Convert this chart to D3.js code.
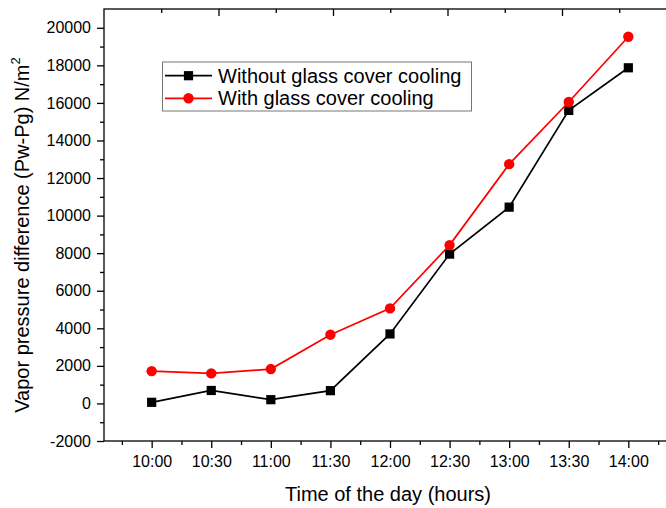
<!DOCTYPE html>
<html>
<head>
<meta charset="utf-8">
<script src="https://cdn.jsdelivr.net/npm/d3@7/dist/d3.min.js"></script>
<style>
  html, body { margin: 0; padding: 0; background: #fff; }
  svg { display: block; font-family: Arial, "Liberation Sans", sans-serif; }
</style>
</head>
<body>
<svg id="chart" width="666" height="508"></svg>
<script>
// ---- data ----
const categories = ["10:00", "10:30", "11:00", "11:30", "12:00", "12:30", "13:00", "13:30", "14:00"];
const withoutCooling = [60, 690, 200, 680, 3700, 7950, 10450, 15600, 17870];
const withCooling = [1720, 1600, 1830, 3660, 5060, 8430, 12740, 16050, 19520];
const seriesNames = ["Without glass cover cooling", "With glass cover cooling"];
const yTicks = [-2000, 0, 2000, 4000, 6000, 8000, 10000, 12000, 14000, 16000, 18000, 20000];
const xTitle = "Time of the day (hours)";
const yTitle = "Vapor pressure difference (Pw-Pg) N/m";

// ---- layout ----
const svg = d3.select("#chart");
const L = 104, T = 9, B = 441, R = 676;

const x = d3.scaleLinear().domain([-0.8, 8.8]).range([L, R]);
const xTop = d3.scaleLinear().domain([-1, 4.001]).range([L, L + 5.001 * 114.5]);
const y = d3.scaleLinear().domain([-2000, 21000]).range([B, T]);

// frame
svg.append("rect").attr("x", L).attr("y", T).attr("width", R - L).attr("height", B - T)
  .attr("fill", "none").attr("stroke", "#000").attr("stroke-width", 1.3);

// bottom axis: major ticks with labels
const xIdx = d3.range(categories.length);
svg.append("g").attr("transform", `translate(0,${B})`)
  .call(d3.axisBottom(x).tickValues(xIdx).tickSize(7).tickPadding(8)
    .tickFormat(i => categories[i]));
// minor
svg.append("g").attr("transform", `translate(0,${B})`)
  .call(d3.axisBottom(x).tickValues(d3.range(-0.5, 9, 1)).tickSize(4).tickFormat(""));

// top axis (inward ticks)
svg.append("g").attr("transform", `translate(0,${T})`)
  .call(d3.axisBottom(xTop).tickValues([0, 1, 2, 3, 4]).tickSize(7).tickFormat(""));
svg.append("g").attr("transform", `translate(0,${T})`)
  .call(d3.axisBottom(xTop).tickValues([-0.5, 0.5, 1.5, 2.5, 3.5]).tickSize(4).tickFormat(""));

// left axis
svg.append("g").attr("transform", `translate(${L},0)`)
  .call(d3.axisLeft(y).tickValues(yTicks).tickSize(7).tickPadding(6).tickFormat(d => String(d)));
svg.append("g").attr("transform", `translate(${L},0)`)
  .call(d3.axisLeft(y).tickValues(d3.range(-1000, 21000, 2000)).tickSize(4).tickFormat(""));

svg.selectAll(".domain").remove();
svg.selectAll(".tick line").attr("stroke", "#000").attr("stroke-width", 1.3);
svg.selectAll(".tick text").attr("font-size", 16).attr("fill", "#000")
  .attr("font-family", "Arial, 'Liberation Sans', sans-serif");

// series
const series = [
  { name: seriesNames[0], values: withoutCooling, color: "#000000", shape: "square" },
  { name: seriesNames[1], values: withCooling, color: "#ff0000", shape: "circle" }
];
const line = d3.line().x((d, i) => x(i)).y(d => y(d));

function drawMarker(g, cx, cy, s) {
  if (s.shape === "square") {
    g.append("rect").attr("x", cx - 4.6).attr("y", cy - 4.6).attr("width", 9.2).attr("height", 9.2)
      .attr("fill", s.color);
  } else {
    g.append("circle").attr("cx", cx).attr("cy", cy).attr("r", 5.2).attr("fill", s.color);
  }
}

series.forEach(s => {
  svg.append("path").datum(s.values).attr("d", line)
    .attr("fill", "none").attr("stroke", s.color).attr("stroke-width", 1.7);
  const g = svg.append("g");
  s.values.forEach((v, i) => drawMarker(g, x(i), y(v), s));
});

// legend
const lg = svg.append("g");
lg.append("rect").attr("x", 162.5).attr("y", 62).attr("width", 309).attr("height", 49)
  .attr("fill", "#fff").attr("stroke", "#777").attr("stroke-width", 1);
series.forEach((s, k) => {
  const cy = 75.7 + k * 22.6;
  lg.append("line").attr("x1", 165).attr("x2", 212).attr("y1", cy).attr("y2", cy)
    .attr("stroke", s.color).attr("stroke-width", 1.7);
  drawMarker(lg, 188.5, cy, s);
  lg.append("text").attr("x", 218).attr("y", cy + 7).attr("font-size", 20).attr("fill", "#000")
    .text(s.name);
});

// axis titles
svg.append("text").attr("x", 388).attr("y", 501)
  .attr("text-anchor", "middle").attr("font-size", 20).attr("fill", "#000")
  .text(xTitle);

const yt = svg.append("text").attr("transform", "translate(29,235) rotate(-90)")
  .attr("text-anchor", "middle").attr("font-size", 20).attr("fill", "#000");
yt.append("tspan").text(yTitle);
yt.append("tspan").attr("font-size", 13).attr("dy", -9).text("2");
</script>
</body>
</html>
